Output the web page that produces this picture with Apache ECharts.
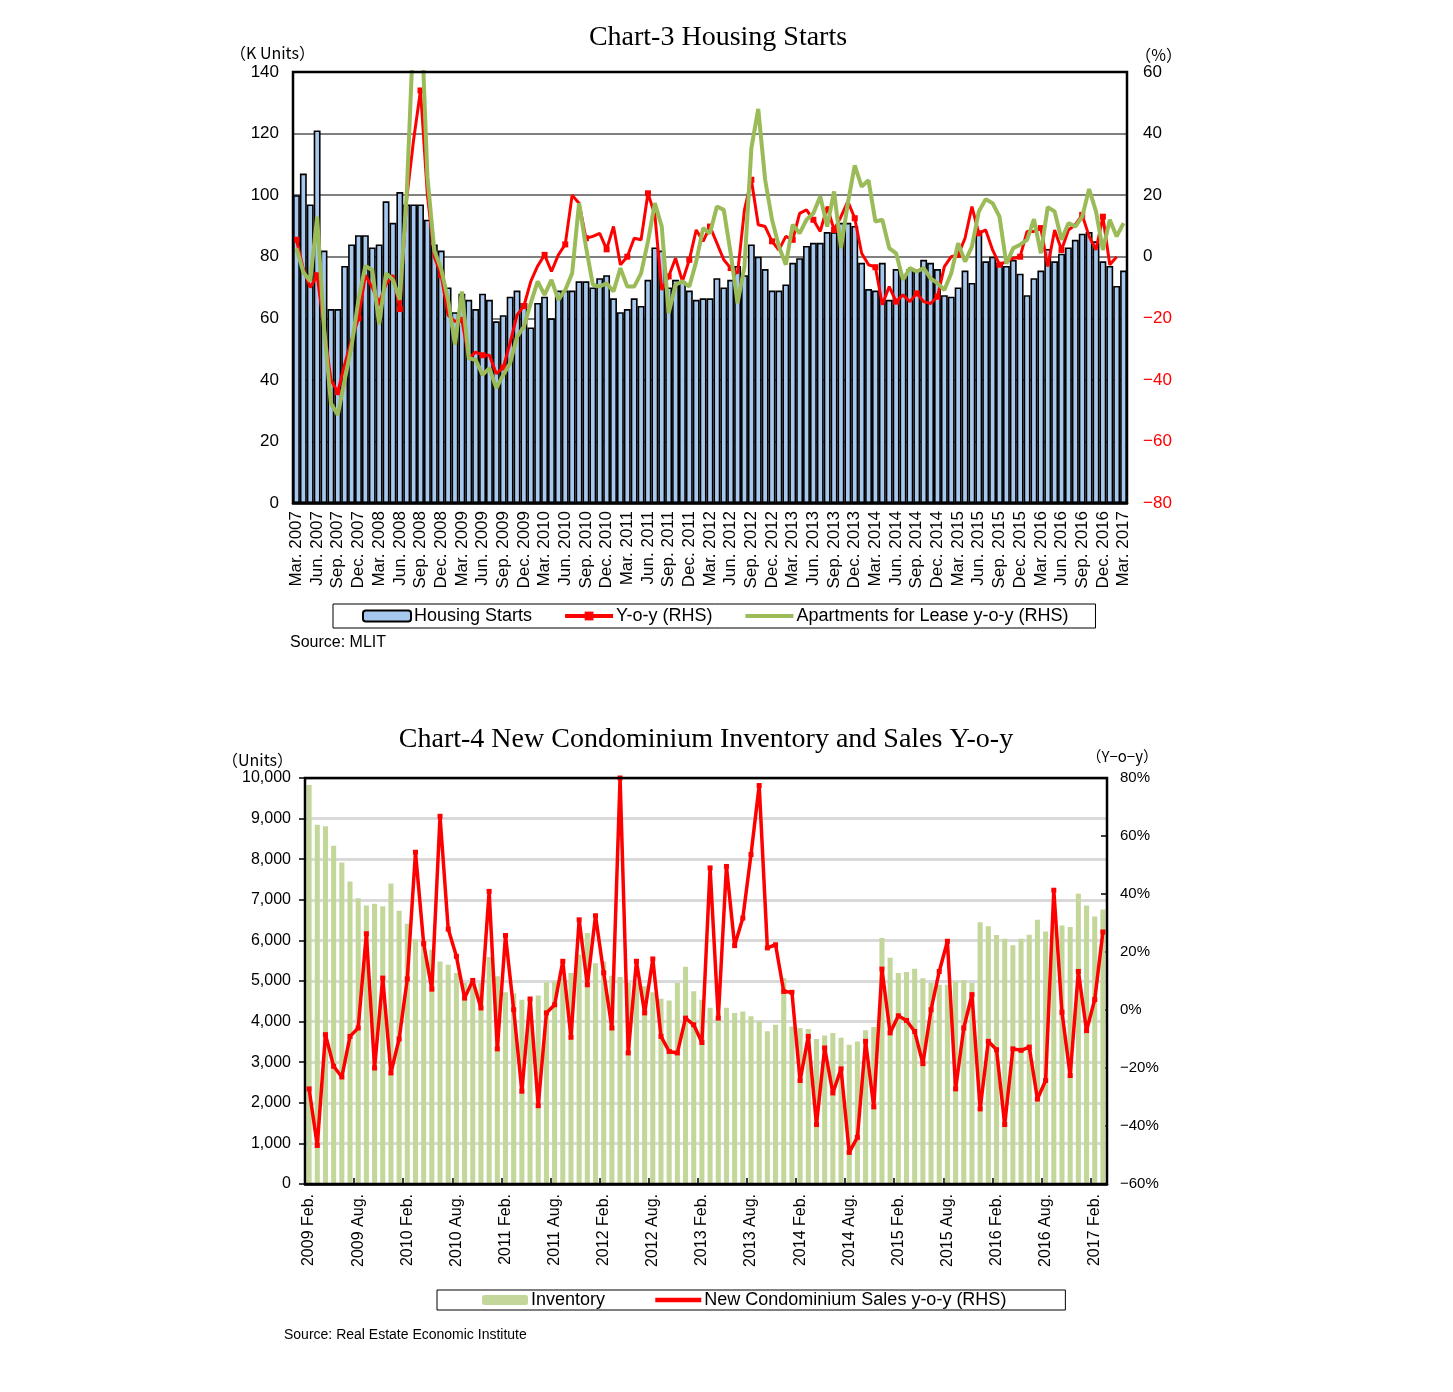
<!DOCTYPE html>
<html>
<head>
<meta charset="utf-8">
<script src="https://cdn.jsdelivr.net/npm/echarts@6/dist/echarts.min.js"></script>
<style>
html,body{margin:0;padding:0;background:#fff;}
#chart{width:1453px;height:1392px;}
</style>
</head>
<body>
<div id="chart"></div>
<script>
// ---------- Chart-3 data (monthly, Mar 2007 - Mar 2017) ----------
const monthAbbr = ['Jan.','Feb.','Mar.','Apr.','May','Jun.','Jul.','Aug.','Sep.','Oct.','Nov.','Dec.'];
const housingStarts = [
  100,107,97,121,82,63,63,77,84,87,87,83,84,
  98,91,101,97,97,97,92,84,82,
  70,62,68,66,63,68,66,59,61,67,69,65,57,65,67,60,69,69,
  69,72,72,70,73,74,66.5,62,63,66.5,64,72.5,83,82,70,72.5,72,69,66,66.5,66.5,73,70,72.5,77,74,84,80,76,69,69,71,78,79.5,83.5,84.5,84.5,88,88,91,91,
  90,78,69.5,69,78,66,76,74,76,76,79,78,76,67.5,67,70,75.5,71.5,88,78.5,80,78,77,79,74.5,67.5,73,75.5,82.5,78.5,81,83,85.5,87.5,88,85,78.5,77,70.5,75.5
];
const startsYoy = [
  5.5,-4,-10,-6,-23,-40,-44,-35,-27,-20,-6,-10,-15,
  -9,-6,-17,19,38,54,20,0,-6,
  -19,-21,-20.5,-33,-31,-32,-32,-38,-36,-28,-19,-16,-8,-3,0.6,-4.8,0.6,
  4,20,17.4,6,6.6,7.6,2.4,9.8,-2.6,0,6,5.5,20.6,13.6,-10.8,-6.4,-0.5,-8,-1,8.7,5,9.8,4.4,-1,-3.7,-5.4,15.2,25,10.4,9.8,5,2.2,6.6,5.5,14.1,15.2,12,8.2,16.3,8.7,13,
  18,12.5,1.1,-2.6,-3.4,-15.6,-9.7,-14.6,-12.4,-14.6,-11.9,-14.6,-15.2,-13,-3.2,0,0.6,6,16.3,7.6,8.7,2.2,-2.6,-1.6,-0.5,0,8.2,8.2,9.3,-3.2,8.7,2.2,8.7,10.4,13.6,6.6,2.2,13,-2.6,0
];
const apartmentsYoy = [
  2.8,-5,-8,13,-23,-47.6,-51.4,-40,-29,-14,-3,-4.3,-22,
  -5.4,-7.5,-14,20.6,75,85,26,2,-4,
  -14,-28.6,-11.3,-33,-33.5,-38.4,-36.2,-42.7,-38.4,-34.6,-26,-22.7,-15,-8,-12.4,-7.5,-14,-10.8,
  -5.4,17.4,3.3,-9.1,-9.7,-8.6,-11.3,-3.7,-9.7,-9.7,-5.4,5,17.4,9.8,-18.4,-9.1,-8,-9.7,-1.6,9.3,7.6,16.3,15.2,1.1,-15.1,-3.2,35.3,48,25,12,3.3,-2.6,10.4,7.6,12,14.1,19.6,9.8,21.2,2.8,17.4,
  29.7,22.8,24.8,11.4,12,2.8,1.1,-7.5,-3.7,-4.8,-3.7,-7,-8.6,-10.8,-5.4,4.4,-1.6,3.3,14.7,18.7,17.4,13,-2.3,2.8,3.9,5.5,12.2,1.1,16.1,14.7,5.5,10.9,9.8,13,22,14.7,2.2,12,6.6,10.9
];
// ---------- Chart-4 data (monthly, Feb 2009 - Mar 2017) ----------
const inventory = [
  9830,8850,8810,8330,7920,7450,7040,6860,6900,6840,7400,6730,
  6410,6030,5940,5770,5480,5400,5200,4950,4870,4950,5590,5120,
  4720,4700,4540,4580,4640,4970,4990,5070,5200,5650,6180,5440,
  5480,5130,5100,4950,4950,4870,4720,4560,4520,4950,5350,4750,
  4540,4340,4210,4340,4210,4250,4130,4010,3760,3920,5070,3880,
  3840,3820,3570,3660,3720,3600,3430,3510,3790,3870,6060,5570,
  5200,5220,5300,5070,4950,4910,4910,4990,5020,4950,6450,6350,
  6130,6040,5880,6040,6140,6510,6220,6350,6370,6330,7150,6860,
  6590,6760
];
const condoSalesYoy = [
  -27.2,-46.7,-8.5,-19.4,-23.1,-9.1,-6.2,26.3,-20,11,-21.7,-10,
  10.7,54.4,22.9,7.2,66.8,27.9,18.5,4.1,10.2,0.7,40.9,-13.4,
  25.7,0.1,-28,3.8,-33,-1,1.8,16.8,-9.4,31.1,8.7,32.5,
  12.8,-6.2,80,-14.8,16.8,-1,17.6,-9.1,-14.3,-14.8,-2.8,-5.1,
  -11.2,49,-2.8,49.5,22.2,31.7,53.6,77.4,21.4,22.5,6.4,6.1,
  -24.3,-9.1,-39.5,-13.1,-28.6,-20.3,-49.1,-43.9,-10.8,-33.4,14.1,-7.9,
  -2,-3.6,-7.4,-18.5,0.1,13.3,23.7,-27.2,-6.2,5.3,-34.1,-10.8,
  -13.7,-39.5,-13.4,-13.9,-12.8,-30.7,-24.3,41.3,-0.8,-22.6,13.3,-7.1,
  3.6,26.9
];

function buildMonths(startYear, startMonth, count, yearFirst) {
  const out = [];
  for (let i = 0; i < count; i++) {
    const m = (startMonth + i) % 12;
    const y = startYear + Math.floor((startMonth + i) / 12);
    out.push(yearFirst ? (y + ' ' + monthAbbr[m]) : (monthAbbr[m] + ' ' + y));
  }
  return out;
}
const months3 = buildMonths(2007, 2, housingStarts.length, false);
const months4 = buildMonths(2009, 1, inventory.length, true);

const SANS = "'Liberation Sans', Arial, sans-serif";
const CJK = "'Noto Sans CJK JP', 'Liberation Sans', sans-serif";
const SERIF = "'Liberation Serif', 'DejaVu Serif', serif";

const chart = echarts.init(document.getElementById('chart'), null, {renderer: 'canvas'});

const option = {
  animation: false,
  backgroundColor: '#ffffff',
  grid: [
    {left: 293, top: 72, width: 834, height: 431, show: true, borderColor: '#000', borderWidth: 2.5, backgroundColor: 'transparent', z: 5},
    {left: 305, top: 778, width: 802, height: 406, show: true, borderColor: '#000', borderWidth: 2.5, backgroundColor: 'transparent', z: 5}
  ],
  xAxis: [
    {
      gridIndex: 0, type: 'category', data: months3, boundaryGap: true,
      axisLine: {show: true, lineStyle: {color: '#000', width: 2.5}},
      axisTick: {show: false},
      axisLabel: {interval: 2, rotate: 90, fontSize: 17, color: '#000', fontFamily: SANS, margin: 8}
    },
    {
      gridIndex: 1, type: 'category', data: months4, boundaryGap: true,
      axisLine: {show: true, lineStyle: {color: '#000', width: 2.5}},
      axisTick: {show: true, inside: true, interval: 5, length: 6, lineStyle: {color: '#000', width: 1.5}},
      axisLabel: {interval: 5, rotate: 90, fontSize: 16, color: '#000', fontFamily: SANS, margin: 10}
    }
  ],
  yAxis: [
    {
      gridIndex: 0, type: 'value', min: 0, max: 140, interval: 20,
      axisLine: {show: false}, axisTick: {show: false},
      splitLine: {show: true, lineStyle: {color: '#808080', width: 2}},
      axisLabel: {fontSize: 17, color: '#000', fontFamily: SANS, margin: 14}
    },
    {
      gridIndex: 0, type: 'value', min: -80, max: 60, interval: 20, position: 'right',
      axisLine: {show: false}, axisTick: {show: false}, splitLine: {show: false},
      axisLabel: {
        margin: 16,
        formatter: function (v) { return v < 0 ? '{r|\u2212' + (-v) + '}' : '{k|' + v + '}'; },
        rich: {
          r: {color: '#FF0000', fontSize: 17, fontFamily: SANS},
          k: {color: '#000', fontSize: 17, fontFamily: SANS}
        }
      }
    },
    {
      gridIndex: 1, type: 'value', min: 0, max: 10000, interval: 1000,
      axisLine: {show: false},
      axisTick: {show: true, inside: false, length: 6, lineStyle: {color: '#000', width: 1.5}},
      splitLine: {show: true, lineStyle: {color: '#D9D9D9', width: 3}},
      axisLabel: {fontSize: 16, color: '#000', fontFamily: SANS, margin: 14,
        formatter: function (v) { return v.toLocaleString('en-US'); }}
    },
    {
      gridIndex: 1, type: 'value', min: -60, max: 80, interval: 20, position: 'right',
      axisLine: {show: false},
      axisTick: {show: true, inside: true, length: 6, lineStyle: {color: '#000', width: 1.5}},
      splitLine: {show: false},
      axisLabel: {fontSize: 15, color: '#000', fontFamily: SANS, margin: 13,
        formatter: function (v) { return v < 0 ? '\u2212' + (-v) + '%' : v + '%'; }}
    }
  ],
  legend: [
    {
      left: 333, top: 604, orient: 'horizontal',
      data: [
        'Housing Starts',
        {name: 'Y-o-y (RHS)', lineStyle: {width: 4}},
        {name: 'Apartments for Lease y-o-y (RHS)', itemStyle: {opacity: 0}, lineStyle: {width: 4}}
      ],
      borderColor: '#000', borderWidth: 1, padding: [3, 27, 3, 29],
      itemWidth: 48, itemHeight: 11, itemGap: 31,
      textStyle: {fontSize: 18, color: '#000', fontFamily: SANS, padding: [0, 0, 0, -2]}
    },
    {
      left: 437, top: 1290, orient: 'horizontal',
      data: [
        'Inventory',
        {name: 'New Condominium Sales y-o-y (RHS)', itemStyle: {opacity: 0}, lineStyle: {width: 4.5}}
      ],
      borderColor: '#000', borderWidth: 1, padding: [1, 59, 1, 45],
      itemWidth: 46, itemHeight: 10, itemGap: 48,
      textStyle: {fontSize: 18, color: '#000', fontFamily: SANS, padding: [0, 0, 0, -2]}
    }
  ],
  graphic: [
    {type: 'text', x: 718, y: 38, style: {text: 'Chart-3 Housing Starts', font: '28px ' + SERIF, fill: '#000', textAlign: 'center', textVerticalAlign: 'middle'}},
    {type: 'text', x: 230, y: 53, style: {text: '（K Units）', font: '16px ' + CJK, fill: '#000', textAlign: 'left', textVerticalAlign: 'middle'}},
    {type: 'text', x: 1182, y: 55, style: {text: '（%）', font: '16px ' + CJK, fill: '#000', textAlign: 'right', textVerticalAlign: 'middle'}},
    {type: 'text', x: 290, y: 643, style: {text: 'Source: MLIT', font: '16px ' + SANS, fill: '#000', textAlign: 'left', textVerticalAlign: 'middle'}},
    {type: 'text', x: 706, y: 740, style: {text: 'Chart-4 New Condominium Inventory and Sales Y-o-y', font: '28px ' + SERIF, fill: '#000', textAlign: 'center', textVerticalAlign: 'middle'}},
    {type: 'text', x: 222, y: 760, style: {text: '（Units）', font: '16px ' + CJK, fill: '#000', textAlign: 'left', textVerticalAlign: 'middle'}},
    {type: 'text', x: 1158, y: 756, style: {text: '（Y\u2212o\u2212y）', font: '15px ' + CJK, fill: '#000', textAlign: 'right', textVerticalAlign: 'middle'}},
    {type: 'text', x: 284, y: 1335, style: {text: 'Source: Real Estate Economic Institute', font: '14px ' + SANS, fill: '#000', textAlign: 'left', textVerticalAlign: 'middle'}}
  ],
  series: [
    {
      name: 'Housing Starts', type: 'bar', xAxisIndex: 0, yAxisIndex: 0, data: housingStarts,
      barCategoryGap: '0%',
      itemStyle: {color: '#A6C8EF', borderColor: '#000', borderWidth: 1.6},
      z: 2
    },
    {
      name: 'Y-o-y (RHS)', type: 'line', xAxisIndex: 0, yAxisIndex: 1, data: startsYoy,
      symbol: 'rect', symbolSize: 6, showSymbol: true,
      lineStyle: {color: '#FF0000', width: 3}, itemStyle: {color: '#FF0000'},
      z: 3
    },
    {
      name: 'Apartments for Lease y-o-y (RHS)', type: 'line', xAxisIndex: 0, yAxisIndex: 1, data: apartmentsYoy,
      showSymbol: false, symbol: 'none',
      lineStyle: {color: '#9BBB59', width: 4}, itemStyle: {color: '#9BBB59'},
      z: 4
    },
    {
      name: 'Inventory', type: 'bar', xAxisIndex: 1, yAxisIndex: 2, data: inventory,
      barCategoryGap: '38%',
      itemStyle: {color: '#C4D79B'},
      z: 2
    },
    {
      name: 'New Condominium Sales y-o-y (RHS)', type: 'line', xAxisIndex: 1, yAxisIndex: 3, data: condoSalesYoy,
      symbol: 'rect', symbolSize: 5, showSymbol: true,
      lineStyle: {color: '#FF0000', width: 3.5}, itemStyle: {color: '#FF0000'},
      z: 3
    }
  ]
};
chart.setOption(option);
</script>
</body>
</html>
